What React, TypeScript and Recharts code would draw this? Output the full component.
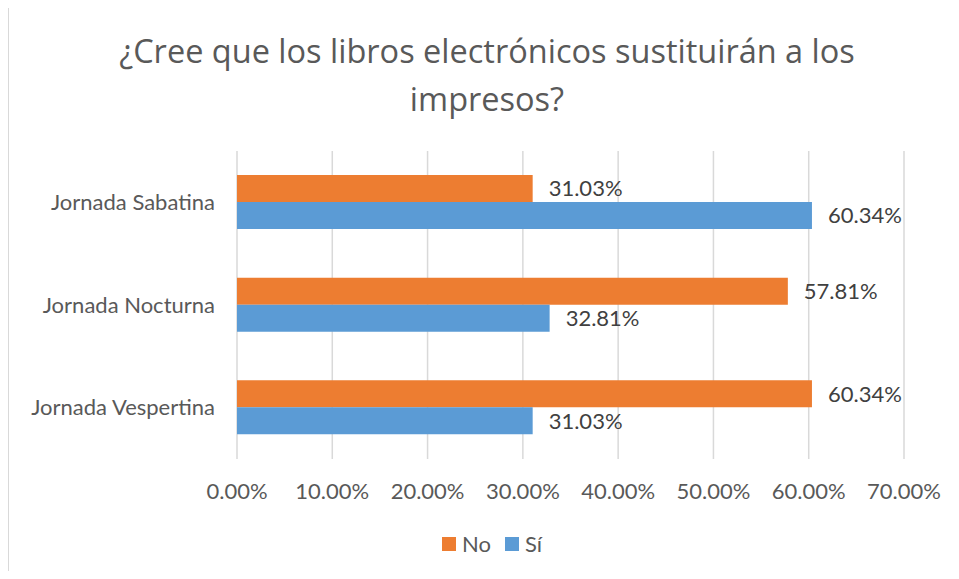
import { BarChart, Bar, XAxis, YAxis, CartesianGrid, LabelList } from "recharts";

const categories = ["Jornada Sabatina", "Jornada Nocturna", "Jornada Vespertina"];
const noValues = [31.03, 57.81, 60.34];
const siValues = [60.34, 32.81, 31.03];
const xTicks = [0, 10, 20, 30, 40, 50, 60, 70];

const data = categories.map((name, i) => ({ name, no: noValues[i], si: siValues[i] }));

const FONT = "Lato, 'Open Sans', sans-serif";
const TITLE_FONT = "'Open Sans', Lato, sans-serif";
const TEXT = "#595959";
const ORANGE = "#ED7D31";
const BLUE = "#5B9BD5";

const pct = (v: number) => `${Number(v).toFixed(2)}%`;

export default function App() {
  return (
    <div
      style={{
        position: "relative",
        width: 959,
        height: 579,
        margin: -8,
        overflow: "hidden",
        background: "#fff",
        fontFamily: FONT,
      }}
    >
      <div
        style={{
          position: "absolute",
          left: 8,
          top: 6,
          width: 980,
          height: 600,
          border: "1.5px solid #d9d9d9",
          boxSizing: "border-box",
        }}
      />
      <div
        style={{
          position: "absolute",
          left: 0,
          top: 27,
          width: 974,
          textAlign: "center",
          fontFamily: TITLE_FONT,
          fontSize: 32.5,
          lineHeight: "48px",
          color: TEXT,
        }}
      >
        ¿Cree que los libros electrónicos sustituirán a los
        <br />
        impresos?
      </div>

      <div style={{ position: "absolute", left: 0, top: 0 }}>
        <BarChart
          width={959}
          height={579}
          data={data}
          layout="vertical"
          margin={{ top: 151, right: 55, bottom: 80, left: 0 }}
          barGap={0}
        >
          <CartesianGrid horizontal={false} stroke="#d9d9d9" strokeWidth={1.5} />
          <XAxis
            type="number"
            domain={[0, 70]}
            ticks={xTicks}
            tickFormatter={pct}
            axisLine={false}
            tickLine={false}
            tickMargin={18}
            height={40}
            tick={{ fill: TEXT, fontSize: 22, fontFamily: FONT }}
          />
          <YAxis
            type="category"
            dataKey="name"
            width={237}
            axisLine={false}
            tickLine={false}
            tickMargin={16}
            tick={{ fill: TEXT, fontSize: 22, fontFamily: FONT }}
          />
          <Bar dataKey="no" name="No" fill={ORANGE} barSize={27} isAnimationActive={false}>
            <LabelList
              dataKey="no"
              position="right"
              offset={16}
              formatter={pct}
              style={{ fill: "#404040", fontSize: 22, fontFamily: FONT }}
            />
          </Bar>
          <Bar dataKey="si" name="Sí" fill={BLUE} barSize={27} isAnimationActive={false}>
            <LabelList
              dataKey="si"
              position="right"
              offset={16}
              formatter={pct}
              style={{ fill: "#404040", fontSize: 22, fontFamily: FONT }}
            />
          </Bar>
        </BarChart>
      </div>

      <div
        style={{
          position: "absolute",
          top: 531,
          left: 442,
          display: "flex",
          alignItems: "center",
          fontSize: 22,
          color: TEXT,
          lineHeight: "26px",
        }}
      >
        <span style={{ width: 14, height: 14, background: ORANGE, display: "inline-block" }} />
        <span style={{ marginLeft: 6, marginRight: 14 }}>No</span>
        <span style={{ width: 14, height: 14, background: BLUE, display: "inline-block" }} />
        <span style={{ marginLeft: 6 }}>Sí</span>
      </div>
    </div>
  );
}
